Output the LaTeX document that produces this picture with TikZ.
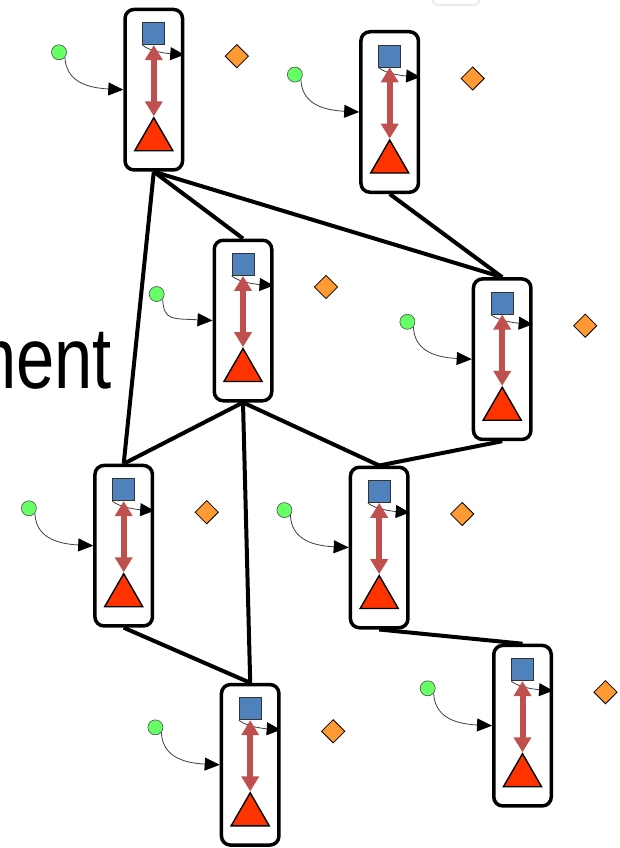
\documentclass[tikz,border=0pt]{standalone}
\usepackage{fontspec}
\usepackage{graphicx}
\setmainfont{Liberation Sans}
\usetikzlibrary{arrows.meta,shapes.geometric,backgrounds}

\definecolor{sqblue}{HTML}{4F81BD}
\definecolor{trired}{HTML}{FF3300}
\definecolor{dblred}{HTML}{C0504D}
\definecolor{dotgreen}{HTML}{66FF66}
\definecolor{diaorange}{HTML}{FF9933}

\tikzset{
  unitbox/.style={draw=black, line width=3.5pt, rounded corners=9pt, fill=white,
    minimum width=57.5pt, minimum height=160.5pt, inner sep=0pt},
  sqnode/.style={draw=black!80, line width=0.8pt, fill=sqblue, minimum size=22pt, inner sep=0pt},
  trinode/.style={regular polygon, regular polygon sides=3, draw=black, line width=1.4pt,
    fill=trired, minimum size=44pt, inner sep=0pt},
  dotnode/.style={circle, draw=black!70, line width=0.6pt, fill=dotgreen, minimum size=15pt, inner sep=0pt},
  dianode/.style={diamond, draw=black, line width=0.8pt, fill=diaorange,
    minimum width=23.5pt, minimum height=23.5pt, inner sep=0pt},
  feed/.style={draw=black!75, line width=0.8pt, -{Triangle[length=15pt,width=13pt,color=black]}},
  feedsmall/.style={draw=black!75, line width=0.8pt, -{Triangle[length=14pt,width=13pt,color=black]}},
  link/.style={draw=black, line width=4pt},
  dbl/.style={draw=dblred, line width=6pt,
    {Triangle[length=15pt,width=17pt]}-{Triangle[length=15pt,width=17pt]}},
  ghost/.style={draw=black!8, line width=2pt, rounded corners=7pt, minimum width=48pt,
    minimum height=26pt, inner sep=0pt},
}

% one block: name, centre x, centre y, offset of the green dot
\newcommand\blockat[5]{%
  \node[unitbox] (#1) at (#2,#3) {};
  \node[sqnode] (#1-sq) at (#2,#3-56) {};
  \node[trinode] (#1-tri) at (#2,#3+50) {};
  \node[dotnode] (#1-dot) at (#2+#4,#3+#5) {};
  \node[dianode] (#1-dia) at (#2+83,#3-33.5) {};
  \coordinate (#1-out) at ([yshift=35pt]#1.east);
  \draw[feedsmall] (#1-sq.south west) .. controls +(8,7) and +(-14,-1) .. (#1-out);
  \draw[dbl] (#1-sq.south) -- (#1-tri.corner 1);
  \draw[feed] (#1-dot.-40) .. controls +(1,22) and +(-40,-2) .. (#1.west);
}

\begin{document}
\begin{tikzpicture}[x=1pt,y=-1pt]
  \useasboundingbox (0,0) rectangle (620,848);
  \clip (0,0) rectangle (620,848);

  \node[ghost] (frame) at (456,-8) {};

  \node[anchor=base east, inner sep=0pt] (word) at (112,388)
    {\scalebox{0.79}[1]{\fontsize{87}{100}\selectfont ment}};

  \blockat{u1}{153.8}{89.7}{-94.8}{-37.4}
  \blockat{u2}{389.7}{112}{-94.8}{-37.4}
  \blockat{u3}{243}{320.5}{-86.3}{-26.5}
  \blockat{u4}{502.2}{359.2}{-94.8}{-37.4}
  \blockat{u5}{123.7}{545.7}{-94.8}{-37.4}
  \blockat{u6}{379.2}{547.5}{-94.8}{-37.4}
  \blockat{u7}{522.5}{725.7}{-94.8}{-37.4}
  \blockat{u8}{250.2}{764.8}{-94.8}{-37.4}

  \begin{scope}[on background layer]
    \draw[link] (u1.south) -- (u3.north);
    \draw[link] (u1.south) -- (u4.north);
    \draw[link] (u1.south) -- (u5.north);
    \draw[link] (u2.south) -- (u4.north);
    \draw[link] (u3.south) -- (u5.north);
    \draw[link] (u3.south) -- (u6.north);
    \draw[link] (u3.south) -- (u8.north);
    \draw[link] (u4.south) -- (u6.north);
    \draw[link] (u5.south) -- (u8.north);
    \draw[link] (u6.south) -- (u7.north);
  \end{scope}
\end{tikzpicture}
\end{document}
